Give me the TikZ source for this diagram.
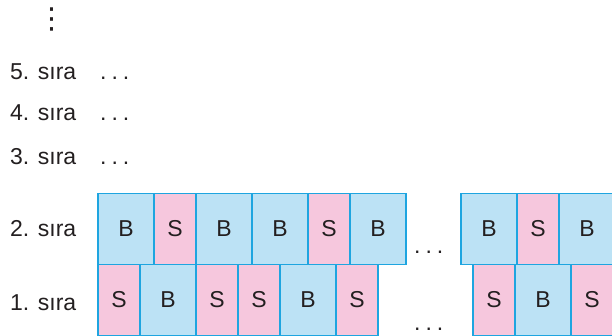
\documentclass[tikz,border=0pt]{standalone}
\usepackage{fontspec}
\setmainfont{Liberation Sans}
\newfontfamily\simgefont{DejaVu Sans}
\usetikzlibrary{positioning}
\definecolor{kenar}{RGB}{30,165,224}
\definecolor{mavi}{RGB}{188,226,245}
\definecolor{pembe}{RGB}{246,199,221}
\definecolor{yazi}{RGB}{35,31,32}

\begin{document}
\begin{tikzpicture}[x=1pt, y=-1pt, font=\fontsize{23}{27}\selectfont, text=yazi, node distance=0pt,
  hucre/.style={draw=kenar, line width=1.2pt, outer sep=0pt, inner sep=0pt, minimum height=71pt},
  bh/.style={hucre, fill=mavi, minimum width=56pt},
  sh/.style={hucre, fill=pembe, minimum width=42pt},
  sira/.style={anchor=base west, inner sep=0pt},
  nokta/.style={anchor=base west, inner sep=0pt}]
  \clip (0,0) rectangle (612,336);
  % dikey noktalar
  \node[inner sep=0pt, font=\simgefont\fontsize{29}{29}\selectfont] (vd) at (52,19.5) {⋮};
  % ust siralar
  \foreach \n/\y in {5/79.5,4/121,3/164.5} {
    \node[sira] (s\n) at (10,\y) {\n. sıra};
    \node[nokta] (d\n) at (100,\y) {.\hspace{5pt}.\hspace{5pt}.};
  }
  \node[sira] (s2) at (10,237) {2. sıra};
  \node[sira] (s1) at (10,310) {1. sıra};
  % 2. sira
  \node[bh, anchor=north west] (u1) at (98,193.5) {B};
  \node[sh, right=of u1] (u2) {S};
  \node[bh, right=of u2] (u3) {B};
  \node[bh, right=of u3] (u4) {B};
  \node[sh, right=of u4] (u5) {S};
  \node[bh, right=of u5] (u6) {B};
  \node[nokta] (du) at (414,253.5) {.\hspace{5pt}.\hspace{5pt}.};
  \node[bh, anchor=north west] (u7) at (461,193.5) {B};
  \node[sh, right=of u7] (u8) {S};
  \node[bh, right=of u8] (u9) {B};
  % 1. sira
  \node[sh, anchor=north west] (a1) at (u1.south west) {S};
  \node[bh, right=of a1] (a2) {B};
  \node[sh, right=of a2] (a3) {S};
  \node[sh, right=of a3] (a4) {S};
  \node[bh, right=of a4] (a5) {B};
  \node[sh, right=of a5] (a6) {S};
  \node[nokta] (da) at (414,330.5) {.\hspace{5pt}.\hspace{5pt}.};
  \node[sh, anchor=north west] (a7) at (473,264.5) {S};
  \node[bh, right=of a7] (a8) {B};
  \node[sh, right=of a8] (a9) {S};
\end{tikzpicture}
\end{document}
